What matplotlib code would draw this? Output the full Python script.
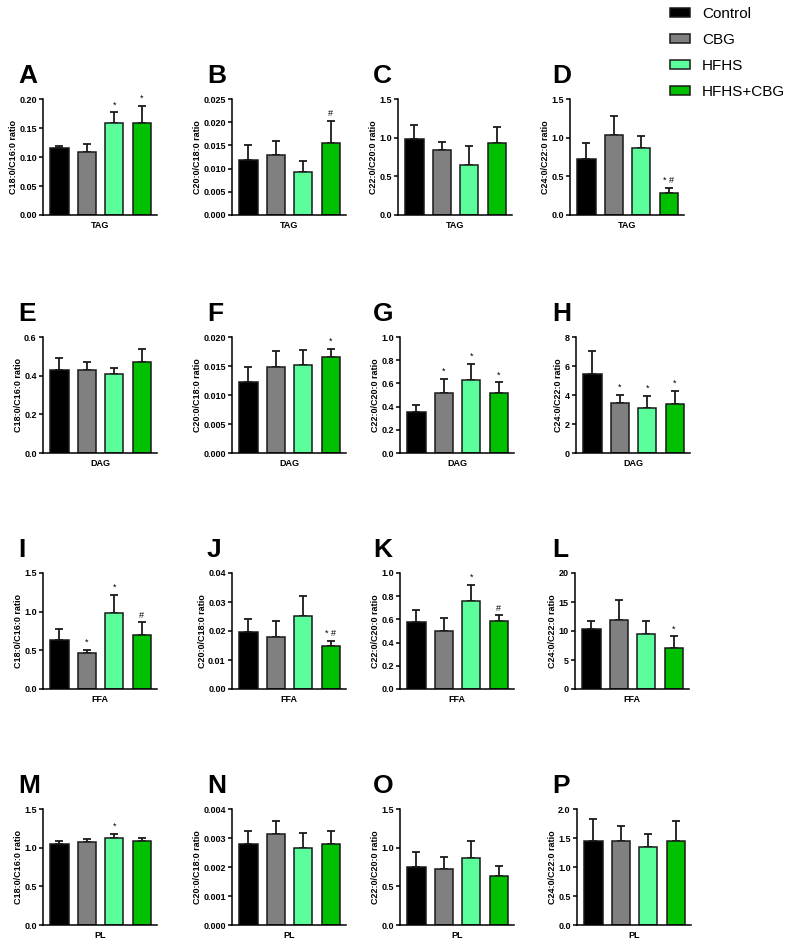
import matplotlib
matplotlib.use("Agg")
import matplotlib.pyplot as plt
from matplotlib.patches import Patch
import numpy as np

plt.rcParams['font.family'] = ['Liberation Sans', 'DejaVu Sans']

groups = ['Control', 'CBG', 'HFHS', 'HFHS+CBG']
colors = ['#000000', '#808080', '#5CFD9B', '#00C000']

letters = ['A', 'B', 'C', 'D', 'E', 'F', 'G', 'H', 'I', 'J', 'K', 'L', 'M', 'N', 'O', 'P']
ratio_labels = ['C18:0/C16:0 ratio', 'C20:0/C18:0 ratio', 'C22:0/C20:0 ratio', 'C24:0/C22:0 ratio']
lipid_classes = ['TAG', 'DAG', 'FFA', 'PL']

# y axis max and tick step, per panel (row by row)
ymax = [0.20, 0.025, 1.5, 1.5,
        0.6, 0.020, 1.0, 8,
        1.5, 0.04, 1.0, 20,
        1.5, 0.004, 1.5, 2.0]
ystep = [0.05, 0.005, 0.5, 0.5,
         0.2, 0.005, 0.2, 2,
         0.5, 0.01, 0.2, 5,
         0.5, 0.001, 0.5, 0.5]
ydec = [2, 3, 1, 1,
        1, 3, 1, 0,
        1, 2, 1, 0,
        1, 3, 1, 1]

# TAG
tag_means = [[0.115, 0.108, 0.159, 0.158],
             [0.0118, 0.0130, 0.0093, 0.0155],
             [0.98, 0.84, 0.65, 0.93],
             [0.73, 1.04, 0.87, 0.28]]
tag_err = [[0.004, 0.015, 0.018, 0.030],
           [0.0033, 0.0029, 0.0024, 0.0048],
           [0.19, 0.11, 0.24, 0.21],
           [0.20, 0.24, 0.15, 0.07]]
tag_marks = [['', '', '*', '*'],
             ['', '', '', '#'],
             ['', '', '', ''],
             ['', '', '', '* #']]

# DAG
dag_means = [[0.43, 0.43, 0.41, 0.47],
             [0.0123, 0.0148, 0.0151, 0.0166],
             [0.35, 0.52, 0.63, 0.52],
             [5.45, 3.45, 3.1, 3.35]]
dag_err = [[0.06, 0.04, 0.03, 0.07],
           [0.0026, 0.0028, 0.0026, 0.0014],
           [0.06, 0.12, 0.14, 0.09],
           [1.6, 0.55, 0.85, 0.95]]
dag_marks = [['', '', '', ''],
             ['', '', '', '*'],
             ['', '*', '*', '*'],
             ['', '*', '*', '*']]

# FFA
ffa_means = [[0.64, 0.47, 0.98, 0.70],
             [0.0195, 0.0178, 0.0253, 0.0148],
             [0.58, 0.50, 0.76, 0.585],
             [10.3, 11.9, 9.4, 7.0]]
ffa_err = [[0.13, 0.04, 0.24, 0.16],
           [0.0045, 0.0055, 0.0067, 0.0018],
           [0.10, 0.11, 0.14, 0.05],
           [1.4, 3.4, 2.3, 2.1]]
ffa_marks = [['', '*', '*', '#'],
             ['', '', '', '* #'],
             ['', '', '*', '#'],
             ['', '', '', '*']]

# PL
pl_means = [[1.05, 1.07, 1.12, 1.08],
            [0.0028, 0.00315, 0.00265, 0.0028],
            [0.75, 0.72, 0.86, 0.64],
            [1.44, 1.45, 1.35, 1.45]]
pl_err = [[0.03, 0.04, 0.06, 0.04],
          [0.00045, 0.00043, 0.00053, 0.00043],
          [0.19, 0.16, 0.22, 0.12],
          [0.38, 0.26, 0.22, 0.34]]
pl_marks = [['', '', '*', ''],
            ['', '', '', ''],
            ['', '', '', ''],
            ['', '', '', '']]

all_means = [tag_means, dag_means, ffa_means, pl_means]
all_err = [tag_err, dag_err, ffa_err, pl_err]
all_marks = [tag_marks, dag_marks, ffa_marks, pl_marks]

W, H = 790, 947
fig = plt.figure(figsize=(W / 100, H / 100), dpi=100)

col_left = [[43, 232, 398, 570],
            [43, 232, 400, 576],
            [43, 232, 400, 575],
            [43, 232, 400, 577]]
row_top = [99, 337, 573, 809]
letter_x = [18, 207, 373, 552]
ax_w, ax_h = 114, 116

x = np.arange(4)
for r in range(4):
    for c in range(4):
        k = r * 4 + c
        left = col_left[r][c]
        top = row_top[r]
        ax = fig.add_axes([left / W, 1 - (top + ax_h) / H, ax_w / W, ax_h / H])
        m = all_means[r][c]
        e = all_err[r][c]
        ax.errorbar(x, m, yerr=[np.zeros(4), e], fmt='none', ecolor='#1a1a1a',
                    elinewidth=1.3, capsize=3.2, capthick=1.3, zorder=1)
        ax.bar(x, m, width=0.66, color=colors, edgecolor='#1a1a1a', linewidth=1.1, zorder=2)
        for i in range(4):
            if all_marks[r][c][i]:
                ax.annotate(all_marks[r][c][i], (x[i], m[i] + e[i]), xytext=(0, 2),
                            textcoords='offset points', ha='center', va='bottom',
                            fontsize=6.5)
        ax.set_xlim(-0.6, 3.55)
        ax.set_ylim(0, ymax[k])
        ticks = np.arange(0, ymax[k] + ystep[k] / 2, ystep[k])
        ax.set_yticks(ticks)
        ax.set_yticklabels([f'{t:.{ydec[k]}f}' for t in ticks], fontsize=6.5, fontweight='bold')
        ax.set_xticks([])
        ax.spines['top'].set_visible(False)
        ax.spines['right'].set_visible(False)
        ax.spines['left'].set_linewidth(1.1)
        ax.spines['bottom'].set_linewidth(1.1)
        ax.tick_params(axis='y', length=3, width=1.1, pad=1.5)
        ax.set_ylabel(ratio_labels[c], fontsize=6.5, fontweight='bold', labelpad=1)
        ax.set_xlabel(lipid_classes[r], fontsize=6.5, fontweight='bold', labelpad=4)
        fig.text(letter_x[c] / W, 1 - (top - 23) / H, letters[k], fontsize=19,
                 fontweight='bold', ha='left', va='center')

handles = [Patch(facecolor=col, edgecolor='#1a1a1a', linewidth=1.1) for col in colors]
fig.legend(handles, groups, loc='upper left', bbox_to_anchor=(670 / W, 1 - 7 / H),
           frameon=False, fontsize=11, handlelength=1.3, handleheight=0.55,
           handletextpad=0.8, labelspacing=0.78, borderpad=0, borderaxespad=0)

fig.savefig('out.png', dpi=100)
